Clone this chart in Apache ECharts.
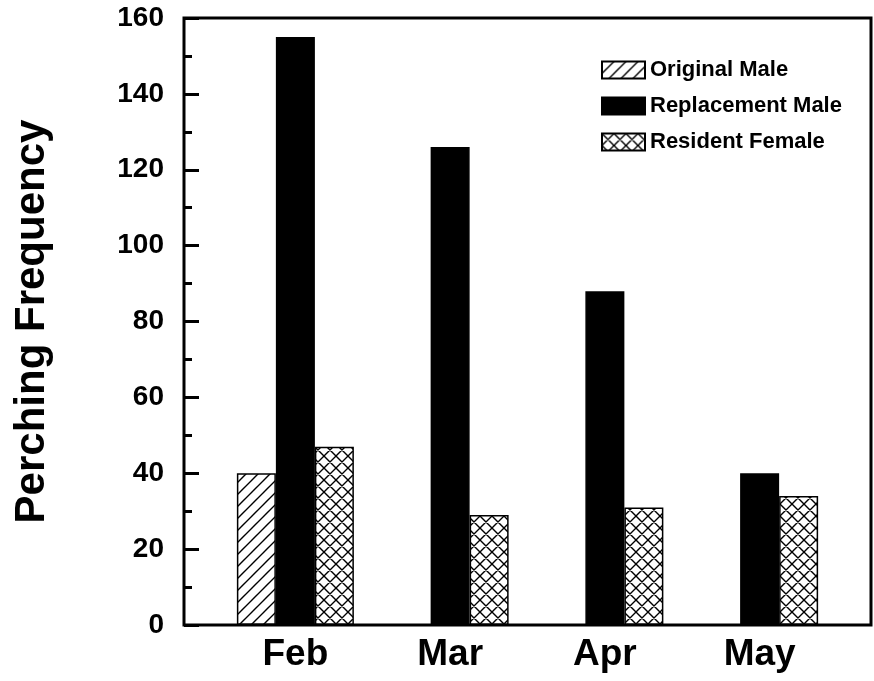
<!DOCTYPE html>
<html>
<head>
<meta charset="utf-8">
<script src="https://cdn.jsdelivr.net/npm/echarts@6/dist/echarts.min.js"></script>
<style>
  html, body { margin: 0; padding: 0; background: #fff; }
  #chart { width: 874px; height: 681px; }
</style>
</head>
<body>
<div id="chart"></div>
<script>
var categories = ['Feb', 'Mar', 'Apr', 'May']
var originalMale = [40, null, null, null]
var replacementMale = [155, 126, 88, 40]
var residentFemale = [47, 29, 31, 34]
var yTicks = [0, 20, 40, 60, 80, 100, 120, 140, 160]

// hatch tiles for the black & white fills
function makeTile(cross) {
  var s = 12
  var c = document.createElement('canvas')
  c.width = s
  c.height = s
  var ctx = c.getContext('2d')
  ctx.fillStyle = '#fff'
  ctx.fillRect(0, 0, s, s)
  ctx.strokeStyle = '#000'
  ctx.lineWidth = 1.4
  ctx.beginPath()
  // "/" lines
  ctx.moveTo(-2, s + 2); ctx.lineTo(s + 2, -2)
  ctx.moveTo(-2 - s, s + 2); ctx.lineTo(2, -2)
  ctx.moveTo(s - 2, s + 2); ctx.lineTo(s + s + 2, -2)
  if (cross) {
    // "\" lines
    ctx.moveTo(-2, -2); ctx.lineTo(s + 2, s + 2)
    ctx.moveTo(-2 - s, -2); ctx.lineTo(2, s + 2)
    ctx.moveTo(s - 2, -2); ctx.lineTo(s + s + 2, s + 2)
  }
  ctx.stroke()
  return c
}

var chart = echarts.init(document.getElementById('chart'))
var font = 'Liberation Sans, Arial, Helvetica, sans-serif'
var frame = { left: 184, top: 18, right: 871, bottom: 625 }

var option = {
  backgroundColor: '#fff',
  animation: false,
  grid: {
    left: 218,
    right: 37,
    top: frame.top,
    bottom: 681 - frame.bottom,
    containLabel: false
  },
  legend: {
    orient: 'vertical',
    left: 596,
    top: 54,
    itemWidth: 43,
    itemHeight: 17,
    itemGap: 14,
    icon: 'rect',
    textStyle: { fontFamily: font, fontSize: 22, fontWeight: 'bold', color: '#000' },
    data: ['Original Male', 'Replacement Male', 'Resident Female']
  },
  xAxis: {
    type: 'category',
    data: categories,
    axisLine: { show: false },
    axisTick: { show: false },
    axisLabel: {
      margin: 11,
      fontFamily: font,
      fontSize: 37,
      fontWeight: 'bold',
      color: '#000'
    }
  },
  yAxis: {
    type: 'value',
    min: yTicks[0],
    max: yTicks[yTicks.length - 1],
    interval: 20,
    offset: 34,
    name: 'Perching Frequency',
    nameLocation: 'middle',
    nameGap: 131,
    nameTextStyle: { fontFamily: font, fontSize: 42, fontWeight: 'bold', color: '#000' },
    axisLine: { show: false },
    axisTick: { show: true, inside: true, length: 15, lineStyle: { color: '#000', width: 3 } },
    minorTick: { show: true, splitNumber: 2, length: 8, lineStyle: { color: '#000', width: 3 } },
    splitLine: { show: false },
    axisLabel: {
      margin: 20,
      fontFamily: font,
      fontSize: 28,
      fontWeight: 'bold',
      color: '#000'
    }
  },
  graphic: [
    {
      type: 'rect',
      shape: {
        x: frame.left,
        y: frame.top,
        width: frame.right - frame.left,
        height: frame.bottom - frame.top
      },
      style: { fill: 'none', stroke: '#000', lineWidth: 3 },
      z: 10
    }
  ],
  series: [
    {
      name: 'Original Male',
      type: 'bar',
      data: originalMale,
      barWidth: 39,
      barGap: '0%',
      itemStyle: {
        color: { image: makeTile(false), repeat: 'repeat' },
        borderColor: '#000',
        borderWidth: 1.5
      }
    },
    {
      name: 'Replacement Male',
      type: 'bar',
      data: replacementMale,
      barWidth: 39,
      barGap: '0%',
      itemStyle: { color: '#000', borderColor: '#000', borderWidth: 1.5 }
    },
    {
      name: 'Resident Female',
      type: 'bar',
      data: residentFemale,
      barWidth: 39,
      barGap: '0%',
      itemStyle: {
        color: { image: makeTile(true), repeat: 'repeat' },
        borderColor: '#000',
        borderWidth: 1.5
      }
    }
  ]
}
chart.setOption(option)
window.onresize = chart.resize
</script>
</body>
</html>
